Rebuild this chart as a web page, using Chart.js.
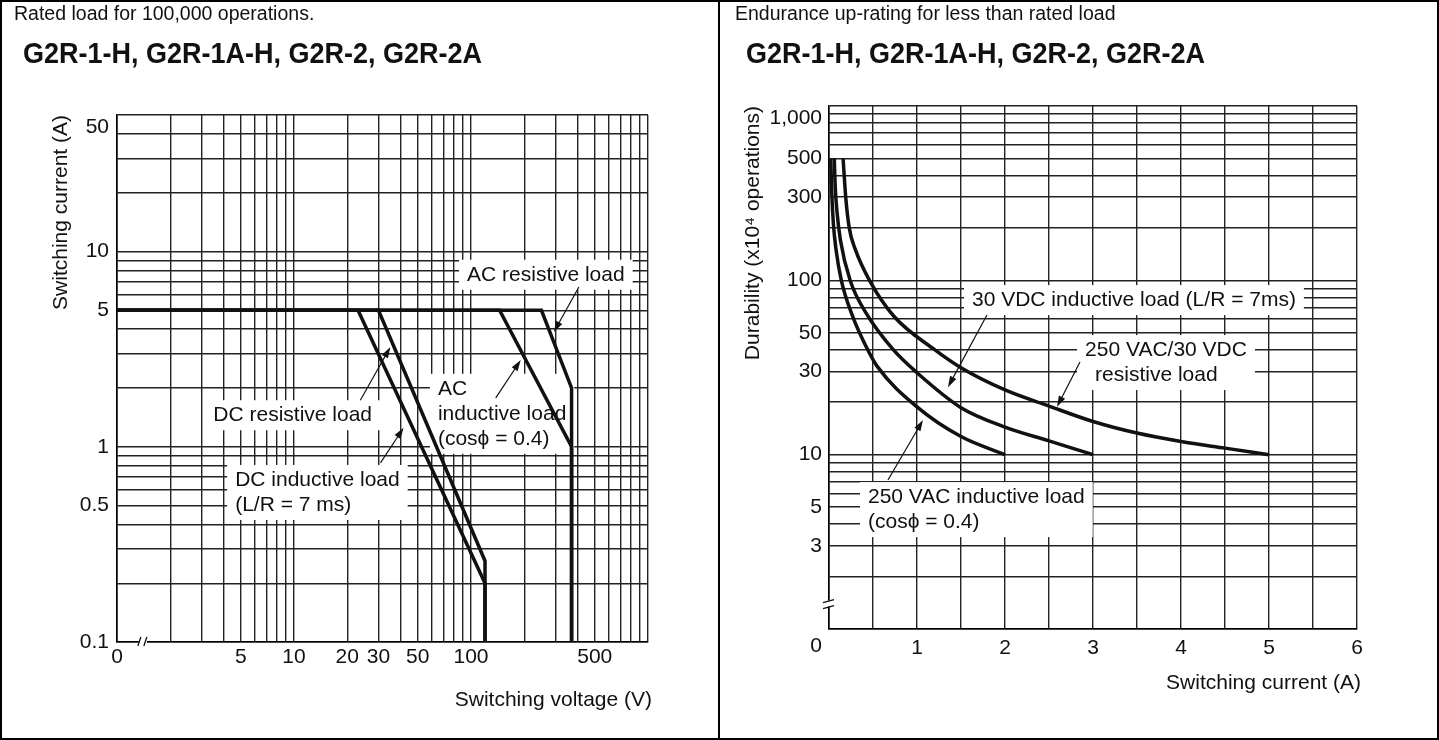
<!DOCTYPE html>
<html>
<head>
<meta charset="utf-8">
<script src="https://cdn.jsdelivr.net/npm/chart.js@4.4.1/dist/chart.umd.min.js"></script>
<style>
  body { margin: 0; background: #fff; }
  #sheet { position: relative; width: 1439px; height: 740px; overflow: hidden; font-family: "Liberation Sans", Arial, Helvetica, sans-serif; color: #111; }
  #sheet canvas { position: absolute; top: 0; }
  .frame { position: absolute; background: #000; }
  .note { position: absolute; white-space: nowrap; font-size: 19.5px; line-height: 22px; }
  .title { position: absolute; white-space: nowrap; font-size: 30px; line-height: 34px; font-weight: bold; transform: scaleX(0.9); transform-origin: 0 0; }
</style>
</head>
<body>
<div id="sheet">
  <canvas id="rated" width="718" height="740" style="left:0"></canvas>
  <canvas id="endurance" width="719" height="740" style="left:720px"></canvas>

  <div class="frame" style="left:0;top:0;width:1439px;height:2px"></div>
  <div class="frame" style="left:0;top:738px;width:1439px;height:2px"></div>
  <div class="frame" style="left:0;top:0;width:2px;height:740px"></div>
  <div class="frame" style="left:1437px;top:0;width:2px;height:740px"></div>
  <div class="frame" style="left:718px;top:0;width:2px;height:740px"></div>

  <div class="note" style="left:14px;top:2px">Rated load for 100,000 operations.</div>
  <div class="title" style="left:23px;top:36px">G2R-1-H, G2R-1A-H, G2R-2, G2R-2A</div>
  <div class="note" style="left:735px;top:2px">Endurance up-rating for less than rated load</div>
  <div class="title" style="left:746px;top:36px">G2R-1-H, G2R-1A-H, G2R-2, G2R-2A</div>
</div>

<script>
const FONT = '"Liberation Sans", Arial, Helvetica, sans-serif';
const INK = '#111';

// left chart: rated load, switching voltage (V) vs switching current (A)
const dcInductiveV = [1, 23, 120, 120];
const dcInductiveA = [5, 5, 0.2, 0.1];
const dcResistiveV = [1, 30, 120, 120];
const dcResistiveA = [5, 5, 0.26, 0.1];
const acInductiveV = [1, 145, 370, 370];
const acInductiveA = [5, 5, 1, 0.1];
const acResistiveV = [1, 250, 370, 370];
const acResistiveA = [5, 5, 2, 0.1];

const voltGrid = [1, 2, 3, 4, 5, 6, 7, 8, 9, 10, 20, 30, 40, 50, 60, 70, 80, 90,
  100, 200, 300, 400, 500, 600, 700, 800, 900, 1000];
const voltLabels = { 1: '0', 5: '5', 10: '10', 20: '20', 30: '30', 50: '50', 100: '100', 500: '500' };
const ampGrid = [0.1, 0.2, 0.3, 0.4, 0.5, 0.6, 0.7, 0.8, 0.9, 1, 2, 3, 4, 5, 6, 7, 8, 9,
  10, 20, 30, 40, 50];
const ampLabels = { 0.1: '0.1', 0.5: '0.5', 1: '1', 5: '5', 10: '10', 50: '50' };

// right chart: durability (x10^4 operations) vs switching current (A)
const acIndCurrent = [0.02, 0.03, 0.05, 0.08, 0.14, 0.27, 0.44, 0.55, 1.0, 1.5, 2.0];
const acIndOps = [500, 330, 210, 150, 100, 62, 40, 32, 18.8, 12.7, 10];
const dcIndCurrent = [0.06, 0.07, 0.09, 0.13, 0.24, 0.42, 0.73, 1.0, 1.5, 2.0, 2.5, 3.0];
const dcIndOps = [500, 350, 250, 170, 100, 65, 40, 29.5, 18.6, 14.4, 12, 10];
const resCurrent = [0.16, 0.19, 0.23, 0.3, 0.46, 0.74, 1.2, 1.5, 2.0, 2.5, 3.0, 3.5, 4.0, 4.5, 5.0];
const resOps = [500, 300, 200, 150, 100, 62, 40, 31.5, 23.5, 19, 15.5, 13.3, 11.9, 10.9, 10];

const currGrid = [0, 0.5, 1, 1.5, 2, 2.5, 3, 3.5, 4, 4.5, 5, 5.5, 6];
const currLabels = { 1: '1', 2: '2', 3: '3', 4: '4', 5: '5', 6: '6' };
const opsGrid = [1, 2, 3, 4, 5, 6, 7, 8, 9, 10, 20, 30, 40, 50, 60, 70, 80, 90,
  100, 200, 300, 400, 500, 600, 700, 800, 900, 1000];
const opsLabels = { 3: '3', 5: '5', 10: '10', 30: '30', 50: '50', 100: '100', 300: '300', 500: '500', 1000: '1,000' };

const pts = (xs, ys) => xs.map((v, i) => ({ x: v, y: ys[i] }));
const curve = (label, xs, ys, extra) => Object.assign({
  label, data: pts(xs, ys), borderColor: INK, borderWidth: 3.5,
  pointRadius: 0, fill: false
}, extra);

// the top label of each y axis sits a little below its grid line, as in the print
const yLabel = (labels, top) => v => v === top ? ['', labels[v]] : (labels[v] || '');

function arrow(ctx, x1, y1, x2, y2) {
  const a = Math.atan2(y2 - y1, x2 - x1), L = 11, W = 3.5;
  const c = Math.cos(a), s = Math.sin(a);
  ctx.beginPath();
  ctx.moveTo(x1, y1);
  ctx.lineTo(x2 - L * 0.7 * c, y2 - L * 0.7 * s);
  ctx.stroke();
  ctx.beginPath();
  ctx.moveTo(x2, y2);
  ctx.lineTo(x2 - L * c + W * s, y2 - L * s - W * c);
  ctx.lineTo(x2 - L * c - W * s, y2 - L * s + W * c);
  ctx.closePath();
  ctx.fill();
}

// white label boxes over the grid, texts, arrows, axis breaks and titles
const sheetDecor = {
  id: 'sheetDecor',
  beforeDatasetsDraw(chart, args, o) {
    const { ctx, scales: { x, y } } = chart;
    ctx.save();
    ctx.font = `${o.size}px ${FONT}`;
    ctx.fillStyle = '#fff';
    o.notes.forEach(n => {
      const px = x.getPixelForValue(n.x), py = y.getPixelForValue(n.y);
      const w = Math.max(...n.text.map((t, i) => ctx.measureText(t).width + ((n.indent || [])[i] || 0)));
      ctx.fillRect(px - 8, py - 15, w + 16, (n.text.length - 1) * o.lineH + 30);
    });
    ctx.restore();
  },
  afterDatasetsDraw(chart, args, o) {
    const { ctx, chartArea: area, scales: { x, y } } = chart;
    ctx.save();
    ctx.font = `${o.size}px ${FONT}`;
    ctx.fillStyle = INK;
    ctx.strokeStyle = INK;
    ctx.textBaseline = 'middle';
    ctx.textAlign = 'left';
    o.notes.forEach(n => {
      const px = x.getPixelForValue(n.x), py = y.getPixelForValue(n.y);
      n.text.forEach((t, i) => ctx.fillText(t, px + ((n.indent || [])[i] || 0), py + i * o.lineH));
    });
    ctx.lineWidth = 1.2;
    o.arrows.forEach(a => arrow(ctx,
      x.getPixelForValue(a.from[0]), y.getPixelForValue(a.from[1]),
      x.getPixelForValue(a.to[0]), y.getPixelForValue(a.to[1])));

    // axis break marks
    ctx.lineWidth = 1.3;
    if (o.xBreak) {
      const px = x.getPixelForValue(o.xBreak), py = area.bottom;
      ctx.fillStyle = '#fff';
      ctx.fillRect(px - 4, py - 2, 8, 4);
      ctx.beginPath();
      ctx.moveTo(px - 5, py + 4); ctx.lineTo(px - 2, py - 5);
      ctx.moveTo(px + 1, py + 4); ctx.lineTo(px + 4, py - 5);
      ctx.stroke();
    }
    if (o.yBreak) {
      const px = area.left, py = y.getPixelForValue(o.yBreak);
      ctx.fillStyle = '#fff';
      ctx.fillRect(px - 2, py - 3, 4, 6);
      ctx.beginPath();
      ctx.moveTo(px - 6, py - 1); ctx.lineTo(px + 5, py - 4);
      ctx.moveTo(px - 6, py + 5); ctx.lineTo(px + 5, py + 2);
      ctx.stroke();
    }
    ctx.fillStyle = INK;
    if (o.zeroLabel) {
      ctx.textAlign = 'center';
      ctx.fillText('0', x.getPixelForValue(0) + o.zeroLabel.dx, area.bottom + o.zeroLabel.dy);
    }

    // axis titles
    ctx.textAlign = 'right';
    ctx.fillText(o.xTitle, area.right + 4, area.bottom + o.xTitleDy);
    ctx.translate(area.left - o.yTitleDx, area.top);
    ctx.rotate(-Math.PI / 2);
    ctx.fillText(o.yTitle, 0, 0);
    ctx.restore();
  }
};

const tickFont = { family: FONT, size: 21 };
const gridStyle = { color: '#222', lineWidth: 1.4, drawTicks: false };
const borderStyle = { color: '#000', width: 1.6 };

new Chart(document.getElementById('rated'), {
  type: 'line',
  data: {
    datasets: [
      curve('DC inductive load', dcInductiveV, dcInductiveA),
      curve('DC resistive load', dcResistiveV, dcResistiveA),
      curve('AC inductive load', acInductiveV, acInductiveA),
      curve('AC resistive load', acResistiveV, acResistiveA)
    ]
  },
  options: {
    responsive: false,
    animation: false,
    devicePixelRatio: 1,
    layout: { padding: { left: 0, top: 115, right: 70, bottom: 58 } },
    plugins: {
      legend: { display: false },
      tooltip: { enabled: false },
      sheetDecor: {
        size: 21,
        lineH: 25,
        notes: [
          { x: 95, y: 7.6, text: ['AC resistive load'] },
          { x: 3.5, y: 1.45, text: ['DC resistive load'] },
          { x: 65, y: 1.98, text: ['AC', 'inductive load', '(cos\u03D5 = 0.4)'] },
          { x: 4.65, y: 0.676, text: ['DC inductive load', '(L/R = 7 ms)'] }
        ],
        arrows: [
          { from: [407, 6.58], to: [294, 3.87] },
          { from: [23.7, 1.73], to: [35, 3.24] },
          { from: [138, 1.78], to: [191, 2.78] },
          { from: [30.8, 0.826], to: [41.6, 1.25] }
        ],
        xBreak: 1.4,
        xTitle: 'Switching voltage (V)',
        xTitleDy: 58,
        yTitle: 'Switching current (A)',
        yTitleDx: 56
      }
    },
    scales: {
      x: {
        type: 'logarithmic',
        min: 1,
        max: 1000,
        afterBuildTicks: s => { s.ticks = voltGrid.map(v => ({ value: v })); },
        afterFit: s => { s.height = 40; },
        grid: gridStyle,
        border: borderStyle,
        ticks: {
          autoSkip: false, maxRotation: 0, minRotation: 0, padding: 3,
          font: tickFont, color: INK,
          callback: v => voltLabels[v] || ''
        }
      },
      y: {
        type: 'logarithmic',
        min: 0.1,
        max: 50,
        afterBuildTicks: s => { s.ticks = ampGrid.map(v => ({ value: v })); },
        afterFit: s => { s.width = 117; },
        grid: gridStyle,
        border: borderStyle,
        ticks: {
          autoSkip: false, padding: 8,
          font: tickFont, color: INK,
          callback: yLabel(ampLabels, 50)
        }
      }
    }
  },
  plugins: [sheetDecor]
});

new Chart(document.getElementById('endurance'), {
  type: 'line',
  data: {
    datasets: [
      curve('250 VAC inductive load', acIndCurrent, acIndOps, { cubicInterpolationMode: 'monotone' }),
      curve('30 VDC inductive load', dcIndCurrent, dcIndOps, { cubicInterpolationMode: 'monotone' }),
      curve('250 VAC/30 VDC resistive load', resCurrent, resOps, { cubicInterpolationMode: 'monotone' })
    ]
  },
  options: {
    responsive: false,
    animation: false,
    devicePixelRatio: 1,
    layout: { padding: { left: 0, top: 106, right: 82, bottom: 71 } },
    plugins: {
      legend: { display: false },
      tooltip: { enabled: false },
      sheetDecor: {
        size: 21,
        lineH: 25,
        notes: [
          { x: 1.625, y: 77, text: ['30 VDC inductive load (L/R = 7ms)'] },
          { x: 2.91, y: 39.8, text: ['250 VAC/30 VDC', 'resistive load'], indent: [0, 10] },
          { x: 0.443, y: 5.71, text: ['250 VAC inductive load', '(cos\u03D5 = 0.4)'] }
        ],
        arrows: [
          { from: [1.795, 63.2], to: [1.352, 24.4] },
          { from: [2.852, 34], to: [2.591, 18.8] },
          { from: [0.67, 7.16], to: [1.068, 15.8] }
        ],
        yBreak: 1.4,
        zeroLabel: { dx: -13, dy: 17 },
        xTitle: 'Switching current (A)',
        xTitleDy: 54,
        yTitle: 'Durability (x10\u2074 operations)',
        yTitleDx: 76
      }
    },
    scales: {
      x: {
        type: 'linear',
        min: 0,
        max: 6,
        afterBuildTicks: s => { s.ticks = currGrid.map(v => ({ value: v })); },
        afterFit: s => { s.height = 40; },
        grid: gridStyle,
        border: borderStyle,
        ticks: {
          autoSkip: false, maxRotation: 0, minRotation: 0, padding: 7,
          font: tickFont, color: INK,
          callback: v => currLabels[v] || ''
        }
      },
      y: {
        type: 'logarithmic',
        min: 1,
        max: 1000,
        afterBuildTicks: s => { s.ticks = opsGrid.map(v => ({ value: v })); },
        afterFit: s => { s.width = 109; },
        grid: gridStyle,
        border: borderStyle,
        ticks: {
          autoSkip: false, padding: 7,
          font: tickFont, color: INK,
          callback: yLabel(opsLabels, 1000)
        }
      }
    }
  },
  plugins: [sheetDecor]
});
</script>
</body>
</html>
